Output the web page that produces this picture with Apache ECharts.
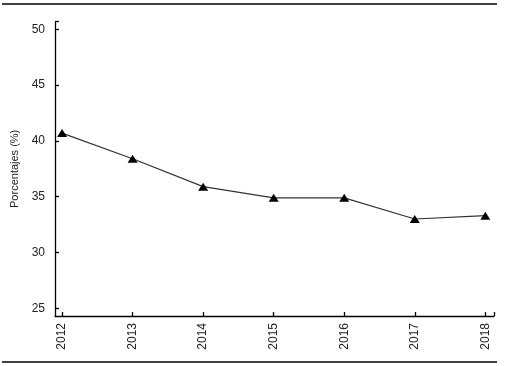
<!DOCTYPE html>
<html>
<head>
<meta charset="utf-8">
<script src="https://cdn.jsdelivr.net/npm/echarts@6/dist/echarts.min.js"></script>
<style>html,body{margin:0;padding:0;background:#fff}#c{width:508px;height:366px}</style>
</head>
<body>
<div id="c"></div>
<script>
const years = [2012, 2013, 2014, 2015, 2016, 2017, 2018];
const values = [40.7, 38.4, 35.9, 34.9, 34.9, 33.0, 33.3];
const yTicks = [25, 30, 35, 40, 45, 50];
const yTitle = 'Porcentajes (%)';

const xMin = 2011.9, xMax = 2018.123;
const yMin = 24.31, yMax = 50.68;

const chart = echarts.init(document.getElementById('c'), null, {renderer: 'canvas'});
const font = 'Liberation Sans';
chart.setOption({
  animation: false,
  backgroundColor: '#fff',
  grid: {left: 55, right: 14, top: 21.7, bottom: 50, containLabel: false},
  xAxis: {
    type: 'value', min: xMin, max: xMax,
    axisLine: {show: true, onZero: false, lineStyle: {color: '#000', width: 1.3}},
    axisTick: {show: true, inside: true, length: 4, customValues: years.concat([xMax]), lineStyle: {color: '#000', width: 1.3}},
    axisLabel: {customValues: years, rotate: 90, margin: 7, fontFamily: font, fontSize: 12, color: '#222',
      formatter: v => String(Math.round(v))},
    splitLine: {show: false}
  },
  yAxis: {
    type: 'value', min: yMin, max: yMax,
    name: yTitle, nameLocation: 'middle', nameGap: 31,
    nameTextStyle: {fontFamily: font, fontSize: 11, color: '#222'},
    axisLine: {show: true, onZero: false, lineStyle: {color: '#000', width: 1.3}},
    axisTick: {show: true, inside: true, length: 4, customValues: yTicks.concat([yMax]), lineStyle: {color: '#000', width: 1.3}},
    axisLabel: {customValues: yTicks, margin: 10, fontFamily: font, fontSize: 12, color: '#222',
      formatter: v => String(Math.round(v))},
    splitLine: {show: false}
  },
  series: [{
    type: 'line',
    data: years.map((y, i) => [y, values[i]]),
    symbol: 'triangle', symbolSize: [10, 8],
    lineStyle: {color: '#333', width: 1.2},
    itemStyle: {color: '#000'}
  }],
  graphic: [
    {type: 'line', shape: {x1: 2, y1: 4, x2: 497, y2: 4}, style: {stroke: '#000', lineWidth: 1.3}},
    {type: 'line', shape: {x1: 2, y1: 362, x2: 497, y2: 362}, style: {stroke: '#000', lineWidth: 1.3}}
  ]
});
</script>
</body>
</html>
